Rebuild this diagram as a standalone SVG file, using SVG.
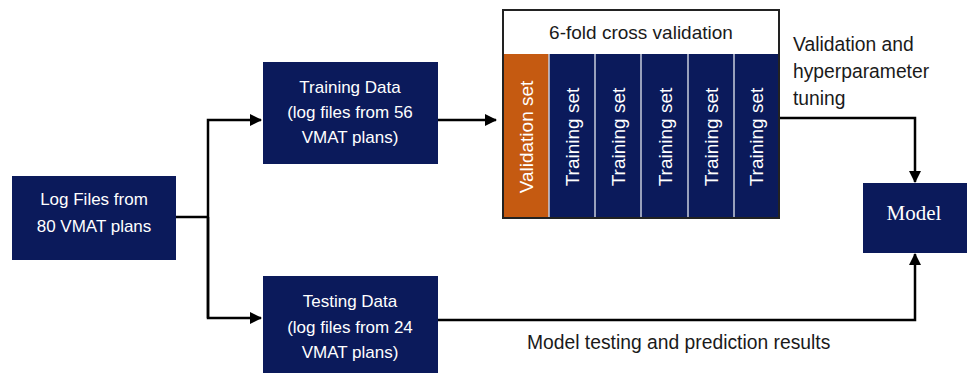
<svg xmlns="http://www.w3.org/2000/svg" width="967" height="374" viewBox="0 0 967 374">
<defs>
<style>
.box{fill:#0B1A5B;}
.t{font-family:"Liberation Sans",Arial,sans-serif;font-size:17px;fill:#ffffff;text-anchor:middle;dominant-baseline:central;}
.tv{font-family:"Liberation Sans",Arial,sans-serif;font-size:19px;fill:#ffffff;text-anchor:middle;dominant-baseline:central;}
.lbl{font-family:"Liberation Sans",Arial,sans-serif;font-size:19.3px;fill:#1a1a1a;dominant-baseline:central;}
.ln{fill:none;stroke:#000;stroke-width:2.5;}
.sep{stroke:#C8CEDD;stroke-width:1.5;}
</style>
<marker id="ah" markerWidth="12" markerHeight="12" refX="11" refY="6" orient="auto" markerUnits="userSpaceOnUse">
<path d="M0,0 L12,6 L0,12 Z" fill="#000"/>
</marker>
</defs>
<rect width="967" height="374" fill="#ffffff"/>

<g id="connectors">
<polyline class="ln" points="176,217 208,217"/>
<polyline class="ln" points="208,318 208,120 261,120" marker-end="url(#ah)"/>
<polyline class="ln" points="208,217 208,318 261,318" marker-end="url(#ah)"/>
<polyline class="ln" points="438,120 496,120" marker-end="url(#ah)"/>
<polyline class="ln" points="780,118 915,118 915,182" marker-end="url(#ah)"/>
<polyline class="ln" points="438,320 915,320 915,254" marker-end="url(#ah)"/>
</g>

<g id="logfiles">
<rect class="box" x="12" y="176" width="164" height="84"/>
<text class="t" x="94" y="199">Log Files from</text>
<text class="t" x="94" y="226">80 VMAT plans</text>
</g>

<g id="training">
<rect class="box" x="263" y="62" width="175" height="102"/>
<text class="t" x="350" y="87">Training Data</text>
<text class="t" x="350" y="112">(log files from 56</text>
<text class="t" x="350" y="137">VMAT plans)</text>
</g>

<g id="testing">
<rect class="box" x="263" y="276" width="175" height="97"/>
<text class="t" x="350" y="301">Testing Data</text>
<text class="t" x="350" y="327">(log files from 24</text>
<text class="t" x="350" y="352">VMAT plans)</text>
</g>

<g id="crossval">
<rect x="503" y="10" width="276" height="208" fill="#ffffff"/>
<rect x="503" y="54" width="46" height="164" fill="#C55A11"/>
<rect class="box" x="549" y="54" width="230" height="164"/>
<line class="sep" x1="549" y1="54" x2="549" y2="218"/>
<line class="sep" x1="595" y1="54" x2="595" y2="218"/>
<line class="sep" x1="641" y1="54" x2="641" y2="218"/>
<line class="sep" x1="688" y1="54" x2="688" y2="218"/>
<line class="sep" x1="734" y1="54" x2="734" y2="218"/>
<rect x="503" y="10" width="276" height="208" fill="none" stroke="#222" stroke-width="2"/>
<text x="641" y="32" font-family="Liberation Sans,Arial,sans-serif" font-size="19" fill="#1a1a1a" text-anchor="middle" dominant-baseline="central">6-fold cross validation</text>
<text class="tv" transform="translate(526,137) rotate(-90)">Validation set</text>
<text class="tv" transform="translate(572,137) rotate(-90)">Training set</text>
<text class="tv" transform="translate(618,137) rotate(-90)">Training set</text>
<text class="tv" transform="translate(665,137) rotate(-90)">Training set</text>
<text class="tv" transform="translate(711,137) rotate(-90)">Training set</text>
<text class="tv" transform="translate(756,137) rotate(-90)">Training set</text>
</g>

<g id="model">
<rect class="box" x="863" y="183" width="104" height="70"/>
<text x="914" y="213" font-family="Liberation Serif,Times New Roman,serif" font-size="21" fill="#ffffff" text-anchor="middle" dominant-baseline="central">Model</text>
</g>

<g id="labels">
<text class="lbl" x="793" y="44">Validation and</text>
<text class="lbl" x="793" y="71">hyperparameter</text>
<text class="lbl" x="793" y="98">tuning</text>
<text class="lbl" x="527" y="342" font-size="19.5">Model testing and prediction results</text>
</g>
</svg>
